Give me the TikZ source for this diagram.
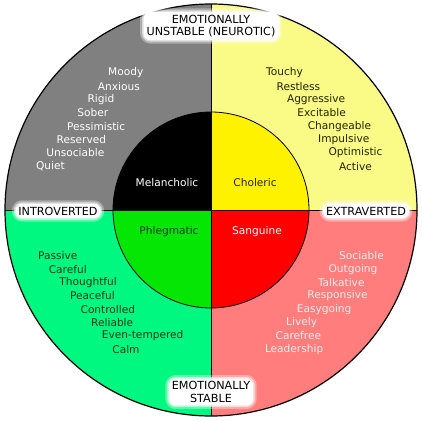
\documentclass[tikz,border=0pt]{standalone}
\usepackage{fontspec}
\setmainfont{DejaVu Sans}

\definecolor{outgray}{RGB}{128,128,128}
\definecolor{outyellow}{RGB}{250,250,135}
\definecolor{outgreen}{RGB}{0,248,128}
\definecolor{outred}{RGB}{255,125,125}
\definecolor{ingreen}{RGB}{5,230,5}
\definecolor{darkgreen}{RGB}{0,55,20}
\definecolor{darkyellow}{RGB}{35,35,0}
\definecolor{palered}{RGB}{255,235,235}

\begin{document}
\begin{tikzpicture}[
    x=1pt, y=-1pt,
    trait/.style={anchor=west, inner sep=0pt, font=\fontsize{10.6}{12}\selectfont},
    core/.style={inner sep=0pt, font=\fontsize{10.6}{12}\selectfont},
    axislabel/.style={fill=white, draw=white, line width=2pt, rounded corners=6pt,
        inner sep=2pt, align=center, font=\fontsize{11.2}{12.5}\selectfont,
        preaction={draw=white, line width=9pt, opacity=0.35},
        preaction={draw=white, line width=5pt, opacity=0.6}},
]
\useasboundingbox (0,0) rectangle (422,420);

\coordinate (c) at (211,210);
\coordinate (top) at (211,4);
\coordinate (bot) at (211,416);
\coordinate (lft) at (5,210);
\coordinate (rgt) at (417,210);

% outer ring
\fill[outgray]   (c) -- ++(180:206pt) arc[start angle=180, end angle=90,  radius=206pt] -- cycle;
\fill[outyellow] (c) -- ++(0:206pt)   arc[start angle=0,   end angle=90,  radius=206pt] -- cycle;
\fill[outgreen]  (c) -- ++(180:206pt) arc[start angle=180, end angle=270, radius=206pt] -- cycle;
\fill[outred]    (c) -- ++(0:206pt)   arc[start angle=0,   end angle=-90, radius=206pt] -- cycle;

% inner circle
\fill[black]     (c) -- ++(180:98pt) arc[start angle=180, end angle=90,  radius=98pt] -- cycle;
\fill[yellow]    (c) -- ++(0:98pt)   arc[start angle=0,   end angle=90,  radius=98pt] -- cycle;
\fill[ingreen]   (c) -- ++(180:98pt) arc[start angle=180, end angle=270, radius=98pt] -- cycle;
\fill[red]       (c) -- ++(0:98pt)   arc[start angle=0,   end angle=-90, radius=98pt] -- cycle;

% outlines and axes
\draw[line width=0.8pt] (lft) -- (rgt);
\draw[line width=0.8pt] (top) -- (bot);
\draw[line width=0.8pt] (c) circle[radius=98pt];
\draw[line width=1.2pt] (c) circle[radius=206pt];

% temperaments
\node[core,white]      (mel) at (167,183) {Melancholic};
\node[core,darkyellow] (cho) at (255,183) {Choleric};
\node[core,darkgreen]  (phl) at (169,232) {Phlegmatic};
\node[core,white]      (san) at (257,232) {Sanguine};

% traits
\foreach \w [count=\i from 0] in {Moody,Anxious,Rigid,Sober,Pessimistic,Reserved,Unsociable,Quiet}
    \node[trait,white] (mel-\i) at (108-10.3*\i, 73+13.3*\i) {\w};
\foreach \w [count=\i from 0] in {Touchy,Restless,Aggressive,Excitable,Changeable,Impulsive,Optimistic,Active}
    \node[trait,darkyellow] (cho-\i) at (266+10.4*\i, 73+13.3*\i) {\w};
\foreach \w [count=\i from 0] in {Passive,Careful,Thoughtful,Peaceful,Controlled,Reliable,Even-tempered,Calm}
    \node[trait,darkgreen] (phl-\i) at (38+10.6*\i, 256+13.3*\i) {\w};
\foreach \w [count=\i from 0] in {Sociable,Outgoing,Talkative,Responsive,Easygoing,Lively,Carefree,Leadership}
    \node[trait,palered] (san-\i) at (339-10.6*\i, 256+13.3*\i) {\w};

% axis labels
\node[axislabel] (neuro)  at (211,26)  {EMOTIONALLY\\UNSTABLE (NEUROTIC)};
\node[axislabel] (intro)  at (58,211)  {INTROVERTED};
\node[axislabel] (extra)  at (366,211) {EXTRAVERTED};
\node[axislabel] (stable) at (211,392) {EMOTIONALLY\\STABLE};

\end{tikzpicture}
\end{document}
